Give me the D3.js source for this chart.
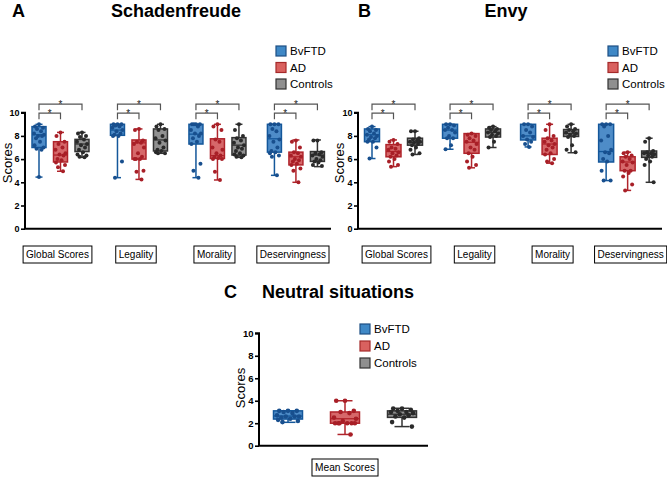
<!DOCTYPE html>
<html>
<head>
<meta charset="utf-8">
<script src="https://cdn.jsdelivr.net/npm/d3@7/dist/d3.min.js"></script>
<style>
html,body{margin:0;padding:0;background:#fff;}
svg{display:block;font-family:Arial,"Liberation Sans",Helvetica,sans-serif;}
</style>
</head>
<body>
<svg id="chart" width="667" height="478"></svg>
<script>
// ---------- DATA ----------
const categories = ["Global Scores", "Legality", "Morality", "Deservingness"];
const groups = ["BvFTD", "AD", "Controls"];
const yTicks = [0, 2, 4, 6, 8, 10];
const neutralCategory = ["Mean Scores"];

// box stats: [min, q1, median, q3, max] per category
const schadenBvFTDBox = [[4.45, 7.0, 8.1, 8.8, 9.0], [4.4, 8.05, 8.5, 9.0, 9.0], [4.4, 7.3, 8.15, 9.0, 9.0], [4.6, 6.6, 7.75, 9.0, 9.0]];
const schadenADBox = [[4.95, 5.75, 6.35, 7.5, 8.3], [4.25, 6.0, 7.4, 7.65, 8.6], [4.2, 6.05, 6.3, 7.75, 9.0], [4.0, 5.5, 6.2, 6.6, 7.65]];
const schadenCtrlBox = [[6.15, 6.65, 7.3, 7.7, 8.3], [6.5, 6.7, 7.65, 8.6, 9.0], [6.15, 6.35, 7.2, 7.85, 9.0], [5.35, 5.8, 6.35, 6.65, 7.65]];

const schadenBvFTDPts = [
  [9.0, 8.8, 8.7, 8.6, 8.4, 8.2, 8.1, 8.0, 8.0, 7.8, 7.5, 7.2, 7.0, 6.9, 6.8, 4.45],
  [9.0, 9.0, 9.0, 8.9, 8.8, 8.7, 8.5, 8.4, 8.2, 8.1, 8.0, 8.0, 5.8, 4.4],
  [9.0, 9.0, 9.0, 9.0, 8.8, 8.5, 8.2, 8.2, 8.0, 7.8, 7.5, 7.3, 5.6, 5.0, 4.4],
  [9.0, 9.0, 9.0, 8.6, 8.4, 8.0, 7.7, 7.5, 7.0, 6.7, 6.6, 6.5, 6.3, 6.2, 4.6]];
const schadenADPts = [
  [8.3, 8.0, 7.5, 7.3, 7.0, 6.8, 6.5, 6.4, 6.3, 6.0, 5.9, 5.7, 5.5, 5.3, 4.95],
  [8.6, 8.5, 7.6, 7.5, 7.4, 7.3, 7.0, 6.5, 6.2, 6.0, 6.0, 6.0, 5.0, 4.9, 4.25],
  [9.0, 8.8, 8.5, 7.7, 7.5, 7.0, 6.8, 6.5, 6.3, 6.2, 6.1, 6.0, 6.0, 4.9, 4.2],
  [7.6, 7.5, 7.0, 6.6, 6.5, 6.3, 6.2, 6.0, 5.9, 5.8, 5.6, 5.5, 5.2, 5.0, 4.0]];
const schadenCtrlPts = [
  [8.3, 8.2, 8.0, 7.9, 7.7, 7.5, 7.3, 7.2, 7.0, 6.8, 6.6, 6.4, 6.3, 6.2, 6.15],
  [9.0, 8.8, 8.6, 8.5, 8.0, 7.8, 7.6, 7.4, 7.0, 6.8, 6.7, 6.6, 6.5, 6.5],
  [9.0, 8.5, 8.0, 7.8, 7.6, 7.4, 7.2, 7.0, 6.9, 6.7, 6.5, 6.4, 6.3, 6.2, 6.15],
  [7.6, 7.6, 6.6, 6.5, 6.4, 6.3, 6.2, 6.0, 5.9, 5.8, 5.7, 5.5, 5.4]];

const envyBvFTDBox = [[6.05, 7.5, 8.1, 8.6, 8.8], [6.85, 7.8, 8.5, 9.0, 9.0], [7.05, 7.65, 8.0, 9.0, 9.0], [4.15, 5.75, 6.65, 9.0, 9.0]];
const envyADBox = [[5.35, 6.2, 6.65, 7.25, 7.65], [5.25, 6.5, 7.45, 8.2, 8.2], [5.65, 6.4, 7.3, 7.8, 9.0], [3.3, 5.0, 5.75, 6.2, 6.6]];
const envyCtrlBox = [[6.4, 7.2, 7.45, 7.8, 8.4], [7.0, 7.9, 8.3, 8.6, 8.8], [6.55, 7.95, 8.2, 8.55, 9.0], [4.0, 6.15, 6.5, 6.7, 7.8]];

const envyBvFTDPts = [
  [8.8, 8.6, 8.5, 8.4, 8.2, 8.1, 8.0, 7.9, 7.8, 7.7, 7.5, 7.5, 7.0, 6.05],
  [9.0, 9.0, 8.9, 8.7, 8.5, 8.5, 8.3, 8.0, 7.8, 7.8, 7.2, 6.85],
  [9.0, 9.0, 8.8, 8.5, 8.3, 8.0, 7.9, 7.7, 7.5, 7.3, 7.05],
  [9.0, 9.0, 9.0, 8.8, 8.0, 7.6, 6.8, 6.6, 6.5, 6.0, 5.8, 5.0, 4.15, 4.15]];
const envyADPts = [
  [7.65, 7.5, 7.3, 7.0, 6.9, 6.8, 6.6, 6.5, 6.3, 6.2, 6.0, 5.8, 5.5, 5.35],
  [8.2, 8.1, 8.0, 7.8, 7.6, 7.5, 7.3, 7.0, 6.8, 6.5, 6.2, 5.8, 5.5, 5.25],
  [9.0, 8.5, 8.0, 7.8, 7.6, 7.5, 7.3, 7.2, 7.0, 6.8, 6.5, 6.4, 6.0, 5.8, 5.65],
  [6.6, 6.5, 6.3, 6.2, 6.0, 5.8, 5.7, 5.5, 5.0, 5.0, 4.8, 4.5, 3.8, 3.3]];
const envyCtrlPts = [
  [8.4, 8.4, 7.8, 7.7, 7.6, 7.5, 7.5, 7.4, 7.3, 7.2, 7.0, 6.8, 6.5, 6.4],
  [8.8, 8.7, 8.6, 8.5, 8.4, 8.3, 8.2, 8.1, 8.0, 7.9, 7.5, 7.0],
  [9.0, 8.8, 8.6, 8.5, 8.4, 8.3, 8.2, 8.1, 8.0, 7.9, 7.2, 6.8, 6.6],
  [7.8, 7.5, 6.7, 6.6, 6.5, 6.5, 6.4, 6.3, 6.2, 6.0, 5.8, 5.5, 4.0]];

const neutralBvFTDBox = [[2.08, 2.37, 2.64, 3.1, 3.1]];
const neutralADBox = [[1.0, 2.0, 2.4, 3.0, 4.0]];
const neutralCtrlBox = [[1.7, 2.52, 2.8, 3.1, 3.33]];
const neutralBvFTDPts = [[3.1, 3.1, 3.1, 3.0, 2.9, 2.7, 2.6, 2.6, 2.6, 2.5, 2.4, 2.3, 2.2, 2.1]];
const neutralADPts = [[4.0, 4.0, 3.1, 3.0, 2.9, 2.5, 2.4, 2.2, 2.0, 2.0, 2.0, 2.0, 2.0, 2.0, 1.0]];
const neutralCtrlPts = [[3.3, 3.3, 3.2, 3.1, 3.0, 3.0, 2.9, 2.8, 2.7, 2.6, 2.5, 2.1, 1.7]];

// ---------- STYLE ----------
const boxFill = ["#3b7fc2", "#d2585a", "#858585"];
const boxStroke = ["#14579a", "#b0242b", "#333333"];
const dotColor = ["#184f8e", "#a81f27", "#2a2a2a"];
const legendFill = ["#3f88c6", "#d9615f", "#8f8f8f"];
const legendStroke = ["#1d4f84", "#a52a2a", "#333333"];
const jitter = [0, -4, 4, -2, 2, -5, 5, -1, 3, -3, 1, -4.5, 4.5, -2.5, 2.5, 0];

const svg = d3.select("#chart");

function drawPanel(o) {
  const g = svg.append("g");
  const y = d3.scaleLinear().domain([0, 10]).range([o.y0, o.y10]);
  const x = d3.scaleLinear().domain([0, 1]).range([o.firstX, o.firstX + o.step]);
  const pos = (ci, si) => x(ci * o.groupStep + si);

  // y axis
  const yAxis = d3.axisLeft(y).tickValues(yTicks).tickSize(4).tickPadding(1.5).tickFormat(d3.format("d"));
  const ya = g.append("g").attr("transform", `translate(${o.axisX},0)`).call(yAxis);
  ya.select(".domain").attr("stroke", "#000").attr("stroke-width", 2).attr("d", `M-4,${o.y10}H0V${o.y0}`);
  ya.selectAll(".tick line").attr("stroke", "#000").attr("stroke-width", 1.6);
  ya.selectAll(".tick text").attr("font-size", o.tickFont).attr("font-weight", "bold").attr("fill", "#000")
    .attr("font-family", "Arial, 'Liberation Sans', sans-serif");
  // x axis line
  g.append("line").attr("x1", o.axisX - 1).attr("x2", o.xEnd).attr("y1", y(0)).attr("y2", y(0))
    .attr("stroke", "#000").attr("stroke-width", 2);

  // y label
  g.append("text").attr("transform", `translate(${o.ylabX},${o.ylabY}) rotate(-90)`)
    .attr("text-anchor", "middle").attr("font-size", 13).attr("fill", "#000").text("Scores");

  // boxes
  o.cats.forEach((cat, ci) => {
    [0, 1, 2].forEach(si => {
      const b = o.boxes[si][ci];
      const cx = pos(ci, si);
      const w = o.boxW, cw = o.capW;
      const col = boxStroke[si];
      // whiskers
      g.append("line").attr("x1", cx).attr("x2", cx).attr("y1", y(b[0])).attr("y2", y(b[1])).attr("stroke", col).attr("stroke-width", 1.5);
      g.append("line").attr("x1", cx).attr("x2", cx).attr("y1", y(b[3])).attr("y2", y(b[4])).attr("stroke", col).attr("stroke-width", 1.5);
      g.append("line").attr("x1", cx - cw / 2).attr("x2", cx + cw / 2).attr("y1", y(b[0])).attr("y2", y(b[0])).attr("stroke", col).attr("stroke-width", 1.5);
      g.append("line").attr("x1", cx - cw / 2).attr("x2", cx + cw / 2).attr("y1", y(b[4])).attr("y2", y(b[4])).attr("stroke", col).attr("stroke-width", 1.5);
      // box
      g.append("rect").attr("x", cx - w / 2).attr("y", y(b[3])).attr("width", w).attr("height", Math.max(0.5, y(b[1]) - y(b[3])))
        .attr("fill", boxFill[si]).attr("fill-opacity", 0.9).attr("stroke", col).attr("stroke-width", 1.5);
      g.append("line").attr("x1", cx - w / 2).attr("x2", cx + w / 2).attr("y1", y(b[2])).attr("y2", y(b[2])).attr("stroke", col).attr("stroke-width", 1.3);
      // points
      o.pts[si][ci].forEach((v, k) => {
        g.append("circle").attr("cx", cx + jitter[k % jitter.length] * o.jit).attr("cy", y(v)).attr("r", o.r).attr("fill", dotColor[si]);
      });
    });
    // category label box
    const lc = pos(ci, 1) + (o.labShift || 0);
    const frame = g.append("rect").attr("fill", "#fff").attr("stroke", "#000").attr("stroke-width", 1);
    const t = g.append("text").attr("x", lc).attr("y", o.labY).attr("text-anchor", "middle")
      .attr("font-size", o.labFont).attr("fill", "#000").text(cat);
    const bb = t.node().getBBox();
    frame.attr("x", bb.x - 3).attr("y", o.labY - 12).attr("width", bb.width + 6).attr("height", 17);

    // significance brackets
    if (o.brackets) {
      const x1 = pos(ci, 0), x2 = pos(ci, 1), x3 = pos(ci, 2);
      const yo = y(10) - 8.5, yi = y(10) + 0.5;
      const bc = "#555";
      g.append("path").attr("d", `M${x1},${yo + 6}V${yo}H${x3}V${yo + 6}`).attr("fill", "none").attr("stroke", bc).attr("stroke-width", 1.2);
      g.append("path").attr("d", `M${x1},${yi + 6}V${yi}H${x2}V${yi + 6}`).attr("fill", "none").attr("stroke", bc).attr("stroke-width", 1.2);
      g.append("text").attr("x", (x1 + x3) / 2).attr("y", yo + 4).attr("text-anchor", "middle").attr("font-size", 10).attr("fill", "#222").text("*");
      g.append("text").attr("x", (x1 + x2) / 2).attr("y", yi + 4).attr("text-anchor", "middle").attr("font-size", 10).attr("fill", "#222").text("*");
    }
  });

  // legend
  groups.forEach((name, i) => {
    const ly = o.legY + i * o.legStep;
    g.append("rect").attr("x", o.legX).attr("y", ly - 5).attr("width", 10).attr("height", 10)
      .attr("fill", legendFill[i]).attr("stroke", legendStroke[i]).attr("stroke-width", 1.2);
    g.append("text").attr("x", o.legX + 14).attr("y", ly + 4.2).attr("font-size", 11.5).attr("fill", "#000").text(name);
  });

  // panel letter & title
  g.append("text").attr("x", o.letterX).attr("y", o.titleY).attr("font-size", 18).attr("font-weight", "bold").attr("fill", "#000").text(o.letter);
  g.append("text").attr("x", o.titleX).attr("y", o.titleY).attr("text-anchor", "middle").attr("font-size", 18).attr("font-weight", "bold").attr("fill", "#000").text(o.title);
}

drawPanel({
  letter: "A", title: "Schadenfreude", letterX: 12, titleX: 176, titleY: 17,
  axisX: 25, xEnd: 331, y0: 228.7, y10: 112.7, firstX: 39, step: 21.5, groupStep: 3.65,
  boxW: 14, capW: 7, r: 2, jit: 1, tickFont: 9,
  ylabX: 12, ylabY: 163, labY: 258, labFont: 10, labShift: -3,
  cats: categories, brackets: true,
  boxes: [schadenBvFTDBox, schadenADBox, schadenCtrlBox],
  pts: [schadenBvFTDPts, schadenADPts, schadenCtrlPts],
  legX: 276, legY: 51, legStep: 16.5
});

drawPanel({
  letter: "B", title: "Envy", letterX: 358, titleX: 506, titleY: 17,
  axisX: 358, xEnd: 662, y0: 228.7, y10: 112.7, firstX: 372, step: 21.5, groupStep: 3.63,
  boxW: 15, capW: 7, r: 2, jit: 1, tickFont: 9,
  ylabX: 344, ylabY: 163, labY: 258, labFont: 10, labShift: 3,
  cats: categories, brackets: true,
  boxes: [envyBvFTDBox, envyADBox, envyCtrlBox],
  pts: [envyBvFTDPts, envyADPts, envyCtrlPts],
  legX: 608, legY: 51, legStep: 16.5
});

drawPanel({
  letter: "C", title: "Neutral situations", letterX: 224, titleX: 338, titleY: 298,
  axisX: 259, xEnd: 428, y0: 445.7, y10: 333.3, firstX: 288, step: 57, groupStep: 3.65,
  boxW: 29, capW: 15, r: 2.3, jit: 2.2, tickFont: 9.5,
  ylabX: 245, ylabY: 388, labY: 471, labFont: 10.2, labShift: 0,
  cats: neutralCategory, brackets: false,
  boxes: [neutralBvFTDBox, neutralADBox, neutralCtrlBox],
  pts: [neutralBvFTDPts, neutralADPts, neutralCtrlPts],
  legX: 360, legY: 329, legStep: 17
});
</script>
</body>
</html>
